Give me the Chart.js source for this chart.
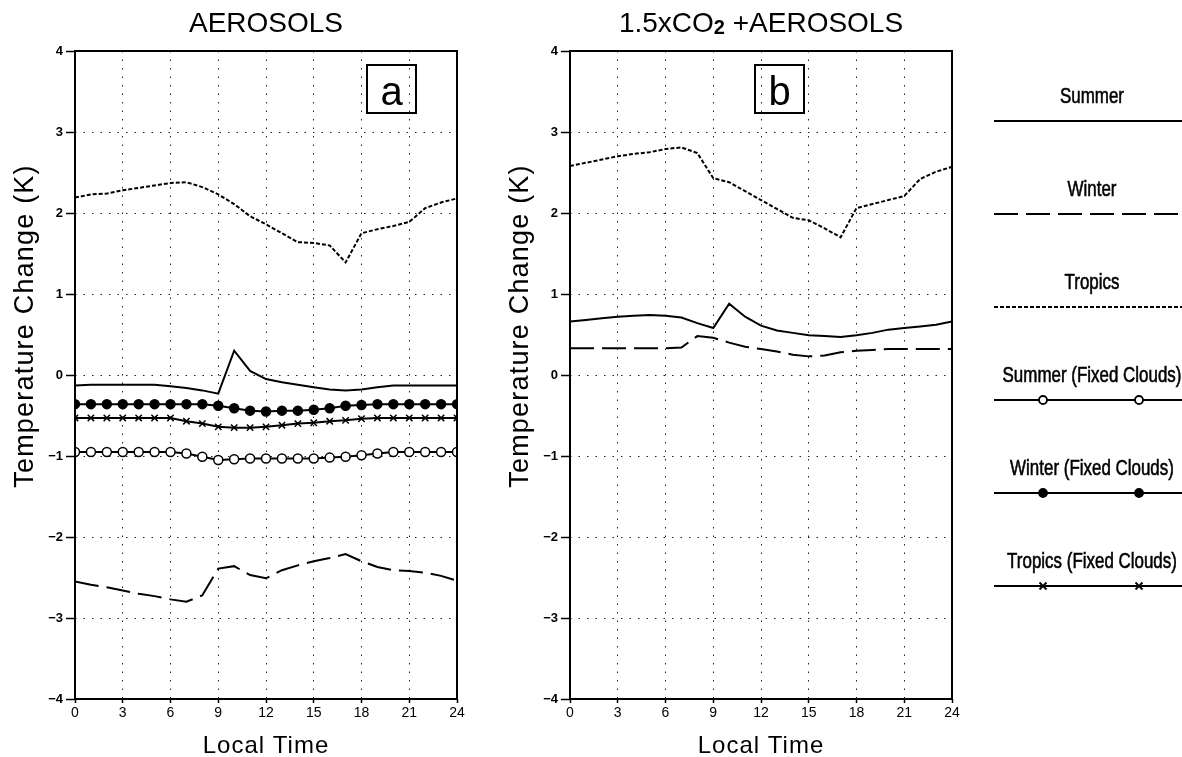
<!DOCTYPE html>
<html>
<head>
<meta charset="utf-8">
<script src="https://cdn.jsdelivr.net/npm/chart.js@4.4.1/dist/chart.umd.min.js"></script>
<style>
  body { margin: 0; background: #fff; width: 1182px; height: 757px; overflow: hidden; position: relative; }
  .panel { position: absolute; top: 0; width: 480px; height: 757px; }
  #legend { position: absolute; left: 960px; top: 0; }
</style>
</head>
<body>
<div class="panel" style="left:0"><canvas id="panelA"></canvas></div>
<div class="panel" style="left:495px"><canvas id="panelB"></canvas></div>
<canvas id="legend" width="222" height="757"></canvas>
<script>
// local time (hours)
const hours = [0, 1, 2, 3, 4, 5, 6, 7, 8, 9, 10, 11, 12, 13, 14, 15, 16, 17, 18, 19, 20, 21, 22, 23, 24];
const xTicks = [0, 3, 6, 9, 12, 15, 18, 21, 24];
const yTicks = [-4, -3, -2, -1, 0, 1, 2, 3, 4];

// (a) aerosols only, temperature change in K
const aSummer = [-0.13, -0.12, -0.12, -0.12, -0.12, -0.12, -0.14, -0.16, -0.19, -0.23, 0.30, 0.05, -0.05,
  -0.09, -0.12, -0.15, -0.18, -0.19, -0.18, -0.15, -0.13, -0.13, -0.13, -0.13, -0.13];
const aWinter = [-2.55, -2.59, -2.62, -2.66, -2.70, -2.73, -2.77, -2.80, -2.72, -2.39, -2.36, -2.47, -2.51,
  -2.41, -2.35, -2.30, -2.26, -2.21, -2.30, -2.37, -2.41, -2.42, -2.44, -2.48, -2.54];
const aTropics = [2.19, 2.23, 2.24, 2.28, 2.31, 2.34, 2.37, 2.38, 2.32, 2.23, 2.11, 1.96, 1.86,
  1.75, 1.64, 1.63, 1.60, 1.39, 1.75, 1.80, 1.84, 1.89, 2.06, 2.13, 2.18];
const aSummerFixed = [-0.95, -0.95, -0.95, -0.95, -0.95, -0.95, -0.95, -0.97, -1.01, -1.05, -1.04, -1.03, -1.03,
  -1.03, -1.03, -1.03, -1.02, -1.01, -0.99, -0.97, -0.95, -0.95, -0.95, -0.95, -0.95];
const aWinterFixed = [-0.36, -0.36, -0.36, -0.36, -0.36, -0.36, -0.36, -0.36, -0.36, -0.38, -0.41, -0.44, -0.45,
  -0.44, -0.44, -0.43, -0.41, -0.38, -0.37, -0.36, -0.36, -0.36, -0.36, -0.36, -0.36];
const aTropicsFixed = [-0.53, -0.53, -0.53, -0.53, -0.53, -0.53, -0.53, -0.57, -0.60, -0.64, -0.65, -0.65, -0.64,
  -0.62, -0.60, -0.59, -0.57, -0.56, -0.54, -0.53, -0.53, -0.53, -0.53, -0.53, -0.53];

// (b) 1.5xCO2 + aerosols
const bSummer = [0.66, 0.68, 0.70, 0.72, 0.73, 0.74, 0.73, 0.71, 0.64, 0.58, 0.88, 0.72, 0.61,
  0.55, 0.52, 0.49, 0.48, 0.47, 0.49, 0.52, 0.56, 0.58, 0.60, 0.62, 0.66];
const bWinter = [0.33, 0.33, 0.33, 0.33, 0.33, 0.33, 0.33, 0.34, 0.48, 0.46, 0.40, 0.35, 0.32,
  0.29, 0.25, 0.23, 0.24, 0.28, 0.30, 0.31, 0.32, 0.32, 0.32, 0.32, 0.32];
const bTropics = [2.58, 2.62, 2.66, 2.70, 2.73, 2.75, 2.79, 2.81, 2.74, 2.43, 2.38, 2.27, 2.16,
  2.05, 1.94, 1.91, 1.81, 1.70, 2.06, 2.11, 2.16, 2.21, 2.42, 2.51, 2.57];

const FONT = "'Liberation Sans', Arial, sans-serif";

// line styles shared by the panels and the legend
const styles = {
  summer:       { dash: [],      point: null },
  winter:       { dash: [24, 8], point: null },
  tropics:      { dash: [4, 2],  point: null },
  summerFixed:  { dash: [],      point: 'circle',   fill: '#fff', radius: 4.5 },
  winterFixed:  { dash: [],      point: 'circle',   fill: '#000', radius: 4.5 },
  tropicsFixed: { dash: [],      point: 'crossRot', fill: '#000', radius: 4.5 }
};

function series(label, values, style) {
  const s = styles[style];
  return {
    label: label,
    data: hours.map((h, i) => ({ x: h, y: values[i] })),
    borderColor: '#000',
    borderWidth: 2,
    borderDash: s.dash,
    tension: 0,
    pointRadius: s.point ? s.radius : 0,
    pointStyle: s.point || 'circle',
    pointBackgroundColor: s.fill || '#000',
    pointBorderColor: '#000',
    pointBorderWidth: 1.5
  };
}

// per-panel decoration: title pieces, letter and where its box sits
const decor = {
  panelA: {
    letter: 'a', boxOffset: 292,
    title: [{ text: 'AEROSOLS', font: '28px ' + FONT, shift: 0 }]
  },
  panelB: {
    letter: 'b', boxOffset: 185,
    title: [
      { text: '1.5xCO', font: '28px ' + FONT, shift: 0 },
      { text: '2', font: 'bold 20px ' + FONT, shift: 2 },
      { text: ' +AEROSOLS', font: '28px ' + FONT, shift: 0 }
    ]
  }
};

// frame, titles and the panel letter box
const panelDecor = {
  id: 'panelDecor',
  afterDraw(chart) {
    const opts = decor[chart.canvas.id];
    const { ctx, chartArea: a } = chart;
    const cx = (a.left + a.right) / 2;
    ctx.save();
    ctx.strokeStyle = '#000';
    ctx.fillStyle = '#000';
    ctx.lineWidth = 2;
    ctx.strokeRect(a.left, a.top, a.right - a.left, a.bottom - a.top);

    // letter box
    const bx = a.left + opts.boxOffset, by = a.top + 14;
    ctx.strokeRect(bx, by, 49, 48);
    ctx.font = '40px ' + FONT;
    ctx.textAlign = 'center';
    ctx.textBaseline = 'alphabetic';
    ctx.fillText(opts.letter, bx + 24.5, by + 40);

    // title, drawn in pieces so the subscript can be smaller
    let total = 0;
    opts.title.forEach(p => { ctx.font = p.font; total += ctx.measureText(p.text).width; });
    let x = cx - total / 2;
    ctx.textAlign = 'left';
    opts.title.forEach(p => {
      ctx.font = p.font;
      ctx.fillText(p.text, x, 32 + p.shift);
      x += ctx.measureText(p.text).width;
    });

    // axis titles
    ctx.textAlign = 'center';
    ctx.font = '24px ' + FONT;
    ctx.letterSpacing = '1px';
    ctx.fillText('Local Time', cx, 753);
    ctx.font = '27px ' + FONT;
    ctx.letterSpacing = '1.2px';
    ctx.translate(a.left - 49, 326);
    ctx.rotate(-Math.PI / 2);
    ctx.textBaseline = 'middle';
    ctx.fillText('Temperature Change (K)', 0, 0);
    ctx.restore();
  }
};

function panelOptions() {
  return {
    responsive: true,
    maintainAspectRatio: false,
    animation: false,
    layout: { padding: { top: 51, right: 23, left: 0, bottom: 0 } },
    plugins: {
      legend: { display: false },
      tooltip: { enabled: false }
    },
    scales: {
      x: {
        type: 'linear', min: 0, max: 24,
        afterBuildTicks: s => { s.ticks = xTicks.map(v => ({ value: v })); },
        afterFit: s => { s.height = 58; },
        grid: { color: '#222', lineWidth: 1, tickLength: 4, tickColor: '#000', tickWidth: 1.5, tickBorderDash: [] },
        border: { display: false, dash: [1.5, 7] },
        ticks: { color: '#000', font: { family: FONT, size: 14 }, padding: 2, maxRotation: 0 }
      },
      y: {
        type: 'linear', min: -4, max: 4,
        afterBuildTicks: s => { s.ticks = yTicks.map(v => ({ value: v })); },
        afterFit: s => { s.width = 75; },
        grid: { color: '#222', lineWidth: 1, tickLength: 9, tickColor: '#000', tickWidth: 1.5, tickBorderDash: [] },
        border: { display: false, dash: [1.5, 7] },
        ticks: {
          color: '#000', font: { family: FONT, size: 13, weight: 'bold' }, padding: 3,
          callback: v => String(v).replace('-', '\u2212')
        }
      }
    }
  };
}

new Chart(document.getElementById('panelA'), {
  type: 'line',
  data: {
    datasets: [
      series('Summer', aSummer, 'summer'),
      series('Winter', aWinter, 'winter'),
      series('Tropics', aTropics, 'tropics'),
      series('Summer (Fixed Clouds)', aSummerFixed, 'summerFixed'),
      series('Winter (Fixed Clouds)', aWinterFixed, 'winterFixed'),
      series('Tropics (Fixed Clouds)', aTropicsFixed, 'tropicsFixed')
    ]
  },
  options: panelOptions(),
  plugins: [panelDecor]
});

new Chart(document.getElementById('panelB'), {
  type: 'line',
  data: {
    datasets: [
      series('Summer', bSummer, 'summer'),
      series('Winter', bWinter, 'winter'),
      series('Tropics', bTropics, 'tropics')
    ]
  },
  options: panelOptions(),
  plugins: [panelDecor]
});

// legend column
const legendEntries = [
  ['Summer', 'summer'],
  ['Winter', 'winter'],
  ['Tropics', 'tropics'],
  ['Summer (Fixed Clouds)', 'summerFixed'],
  ['Winter (Fixed Clouds)', 'winterFixed'],
  ['Tropics (Fixed Clouds)', 'tropicsFixed']
];

(function drawLegend() {
  const ctx = document.getElementById('legend').getContext('2d');
  ctx.fillStyle = '#000';
  ctx.strokeStyle = '#000';
  ctx.textAlign = 'center';
  ctx.font = '22px ' + FONT;
  legendEntries.forEach(([label, key], i) => {
    const s = styles[key];
    const lineY = 121 + i * 93;
    // condensed lettering: squeeze the text horizontally
    ctx.save();
    ctx.translate(132, lineY - 18);
    ctx.scale(0.77, 1);
    ctx.fillText(label, 0, 0);
    ctx.lineWidth = 0.6;
    ctx.strokeText(label, 0, 0);
    ctx.restore();

    ctx.lineWidth = 2;
    ctx.setLineDash(s.dash);
    ctx.beginPath();
    ctx.moveTo(34, lineY);
    ctx.lineTo(222, lineY);
    ctx.stroke();
    ctx.setLineDash([]);
    if (!s.point) return;
    [83, 179].forEach(px => {
      ctx.lineWidth = 1.8;
      if (s.point === 'circle') {
        ctx.beginPath();
        ctx.arc(px, lineY, 4, 0, Math.PI * 2);
        ctx.fillStyle = s.fill;
        ctx.fill();
        ctx.stroke();
        ctx.fillStyle = '#000';
      } else {
        const r = 3.5;
        ctx.beginPath();
        ctx.moveTo(px - r, lineY - r); ctx.lineTo(px + r, lineY + r);
        ctx.moveTo(px - r, lineY + r); ctx.lineTo(px + r, lineY - r);
        ctx.stroke();
      }
    });
  });
})();
</script>
</body>
</html>
